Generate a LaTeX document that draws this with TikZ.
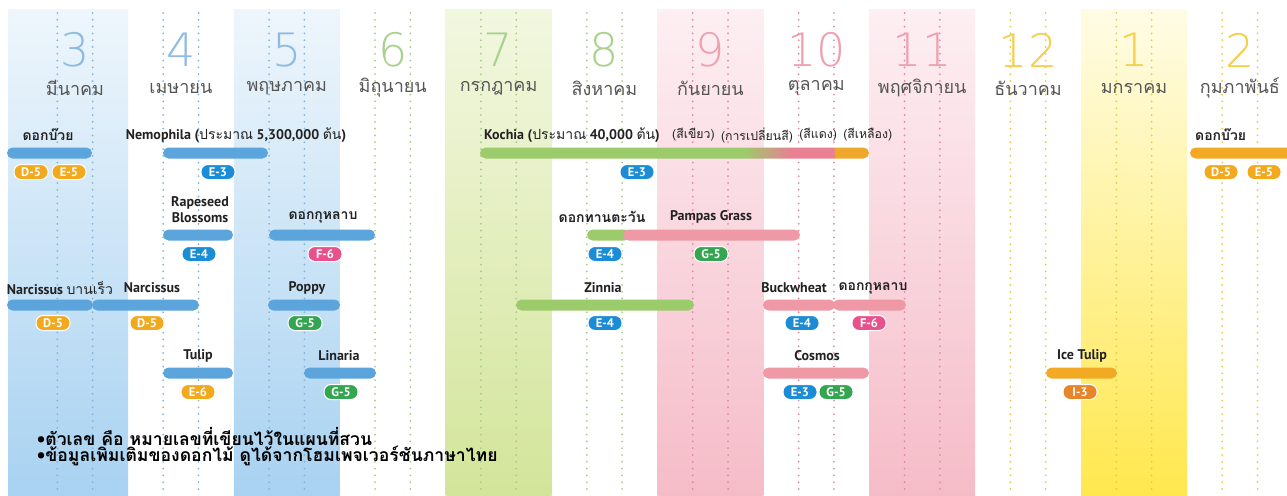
\documentclass[tikz,border=0pt]{standalone}
\usepackage{fontspec}
\setmainfont{PT Sans}
\newfontfamily\thaifont[Script=Thai]{Loma}
\newfontfamily\numfont{DejaVu Sans ExtraLight}
\newcommand\thtxt[1]{{\thaifont #1}}
\newcommand\thmd[1]{{\thaifont\mdseries #1}}
\definecolor{bandBlueT}{HTML}{EEF6FC}\definecolor{bandBlueB}{HTML}{A8D2F1}
\definecolor{bandGreenT}{HTML}{F2F7E0}\definecolor{bandGreenB}{HTML}{D3E59A}
\definecolor{bandPinkT}{HTML}{FDEFF3}\definecolor{bandPinkB}{HTML}{F5BCC8}
\definecolor{bandYelT}{HTML}{FFFCE6}\definecolor{bandYelB}{HTML}{FFE84E}
\definecolor{numBlue}{HTML}{8CBBE4}\definecolor{numGreen}{HTML}{A8D18C}
\definecolor{numPink}{HTML}{EEA0AE}\definecolor{numYel}{HTML}{F6CD4C}
\definecolor{dotBlue}{HTML}{86B3DC}\definecolor{dotGreen}{HTML}{A9C98A}
\definecolor{dotPink}{HTML}{DE8AA0}\definecolor{dotYel}{HTML}{E6CC45}
\definecolor{barBlue}{HTML}{5BA4DC}\definecolor{barGreen}{HTML}{9CCB6B}
\definecolor{barPink}{HTML}{EE99A5}\definecolor{barOrange}{HTML}{F2AA24}
\definecolor{tagBlue}{HTML}{1B8CD6}\definecolor{tagOrange}{HTML}{F2A91E}
\definecolor{tagGreen}{HTML}{34A551}\definecolor{tagPink}{HTML}{E8528C}
\definecolor{tagDeep}{HTML}{E8842A}
\definecolor{labcol}{HTML}{222222}\definecolor{namecol}{HTML}{555555}
\definecolor{kGreen}{HTML}{9CCB6B}\definecolor{kPink}{HTML}{E98093}\definecolor{kOrange}{HTML}{F0A82C}
\pgfdeclarehorizontalshading{kochiashade}{100bp}{color(0bp)=(kGreen); color(25bp)=(kGreen); color(59bp)=(kGreen); color(65bp)=(kPink); color(70.4bp)=(kPink); color(70.7bp)=(kOrange); color(100bp)=(kOrange)}
\newcommand\drawbar[4]{\fill[#1, rounded corners=5.5pt] (#2,#4-5.5) rectangle (#3,#4+5.5);}
\begin{document}
\begin{tikzpicture}[x=1pt,y=-1pt,
  dotline/.style={line width=2pt, line cap=round, dash pattern=on 0pt off 6.8pt},
  numstyle/.style={font=\numfont\fontsize{46}{46}\selectfont, inner sep=0pt},
  namestyle/.style={font=\thaifont\fontsize{18}{18}\selectfont, text=namecol, inner sep=0pt},
  lab/.style={font=\bfseries\fontsize{14}{15}\selectfont, text=labcol, inner sep=0pt},
  sublab/.style={font=\thaifont\fontsize{12.3}{13}\selectfont, text=labcol, inner sep=0pt, anchor=west},
  tag/.style={rectangle, rounded corners=7pt, minimum width=34pt, minimum height=15pt, inner sep=0pt,
     draw=white, line width=1pt, text=white, font=\bfseries\fontsize{12.5}{12.5}\selectfont},
  note/.style={font=\thaifont\bfseries\fontsize{17.6}{18}\selectfont, text=black, inner sep=0pt, anchor=west}]
\useasboundingbox (0,0) rectangle (1287,495);
\fill[white] (0,0) rectangle (1287,495);
% background bands
\shade[top color=bandBlueT, bottom color=bandBlueB] (8,10) rectangle (128,495);
\shade[top color=bandBlueT, bottom color=bandBlueB] (233.8,10) rectangle (339.7,495);
\shade[top color=bandGreenT, bottom color=bandGreenB] (445.6,10) rectangle (551.5,495);
\shade[top color=bandPinkT, bottom color=bandPinkB] (657.4,10) rectangle (763.3,495);
\shade[top color=bandPinkT, bottom color=bandPinkB] (869.2,10) rectangle (975.1,495);
\shade[top color=bandYelT, bottom color=bandYelB] (1081,10) rectangle (1186.9,495);
% dotted lines, numbers and month names
\foreach \i/\num/\name/\nc/\dc in {0/3/มีนาคม/numBlue/dotBlue, 1/4/เมษายน/numBlue/dotBlue, 2/5/พฤษภาคม/numBlue/dotBlue,
  3/6/มิถุนายน/numGreen/dotGreen, 4/7/กรกฎาคม/numGreen/dotGreen, 5/8/สิงหาคม/numGreen/dotGreen,
  6/9/กันยายน/numPink/dotPink, 7/10/ตุลาคม/numPink/dotPink, 8/11/พฤศจิกายน/numPink/dotPink,
  9/12/ธันวาคม/numYel/dotYel, 10/1/มกราคม/numYel/dotYel, 11/2/กุมภาพันธ์/numYel/dotYel}{
  \draw[dotline, \dc] ({22+105.9*\i+35.3},13) -- ({22+105.9*\i+35.3},495);
  \draw[dotline, \dc] ({22+105.9*\i+70.6},13) -- ({22+105.9*\i+70.6},495);
  \node[numstyle, text=\nc] (num\i) at ({22+105.9*\i+53},50) {\num};
  \node[namestyle] (name\i) at ({22+105.9*\i+53},88) {\name};
}
% ---- row 1
\drawbar{barBlue}{7}{92}{153}
\drawbar{barBlue}{163}{268}{153}
\shade[shading=kochiashade, rounded corners=5.5pt] (480,147.5) rectangle (869,158.5);
\drawbar{barOrange}{1190}{1300}{153}
\node[lab] (l1) at (48,135) {\thtxt{ดอกบ๊วย}};
\node[lab] (l2) at (236,135) {Nemophila (\thmd{ประมาณ} 5,300,000 \thmd{ต้น})};
\node[lab, anchor=west] (l3) at (484,135) {Kochia (\thmd{ประมาณ} 40,000 \thmd{ต้น})};
\node[sublab] (l3a) at (672,135) {(สีเขียว)};
\node[sublab] (l3b) at ([xshift=6pt]l3a.east) {(การเปลี่ยนสี)};
\node[sublab] (l3c) at ([xshift=6pt]l3b.east) {(สีแดง)};
\node[sublab] (l3d) at ([xshift=6pt]l3c.east) {(สีเหลือง)};
\node[lab, anchor=west] (l4) at (1195,135) {\thtxt{ดอกบ๊วย}};
\node[tag, fill=tagOrange] (t1) at (31,172) {D-5};
\node[tag, fill=tagOrange] (t2) at (69,172) {E-5};
\node[tag, fill=tagBlue] (t3) at (218,172) {E-3};
\node[tag, fill=tagBlue] (t4) at (637,172) {E-3};
\node[tag, fill=tagOrange] (t5) at (1221,172) {D-5};
\node[tag, fill=tagOrange] (t6) at (1264,172) {E-5};
% ---- row 2
\drawbar{barBlue}{163}{233}{235}
\drawbar{barBlue}{269}{375}{235}
\drawbar{barGreen}{587}{630}{235}
\drawbar{barPink}{623}{800}{235}
\node[lab, align=center, font=\bfseries\fontsize{14}{16}\selectfont] (l5) at (200,210) {Rapeseed\\Blossoms};
\node[lab] (l6) at (323,217) {\thtxt{ดอกกุหลาบ}};
\node[lab] (l7) at (602,217) {\thtxt{ดอกทานตะวัน}};
\node[lab] (l8) at (711,217) {Pampas Grass};
\node[tag, fill=tagBlue] (t7) at (199,254) {E-4};
\node[tag, fill=tagPink] (t8) at (325,254) {F-6};
\node[tag, fill=tagBlue] (t9) at (605,254) {E-4};
\node[tag, fill=tagGreen] (t10) at (711,254) {G-5};
% ---- row 3
\drawbar{barBlue}{7}{93}{305}
\drawbar{barBlue}{92}{199}{305}
\drawbar{barBlue}{268}{340}{305}
\drawbar{barGreen}{516}{694}{305}
\drawbar{barPink}{763}{835}{305}
\drawbar{barPink}{833}{906}{305}
\node[lab] (l9) at (60,288) {Narcissus \thmd{บานเร็ว}};
\node[lab] (l10) at (152,288) {Narcissus};
\node[lab] (l11) at (307,288) {Poppy};
\node[lab] (l12) at (603,288) {Zinnia};
\node[lab] (l13) at (794,288) {Buckwheat};
\node[lab] (l14) at (873,288) {\thtxt{ดอกกุหลาบ}};
\node[tag, fill=tagOrange] (t11) at (53,323) {D-5};
\node[tag, fill=tagOrange] (t12) at (147,323) {D-5};
\node[tag, fill=tagGreen] (t13) at (305,323) {G-5};
\node[tag, fill=tagBlue] (t14) at (605,323) {E-4};
\node[tag, fill=tagBlue] (t15) at (802,323) {E-4};
\node[tag, fill=tagPink] (t16) at (869,323) {F-6};
% ---- row 4
\drawbar{barBlue}{163}{233}{373}
\drawbar{barBlue}{304}{376}{373}
\drawbar{barPink}{763}{869}{373}
\drawbar{barOrange}{1046}{1117}{373}
\node[lab] (l15) at (198,356) {Tulip};
\node[lab] (l16) at (339,356) {Linaria};
\node[lab] (l17) at (817,356) {Cosmos};
\node[lab] (l18) at (1082,356) {Ice Tulip};
\node[tag, fill=tagOrange] (t17) at (198,392) {E-6};
\node[tag, fill=tagGreen] (t18) at (341,392) {G-5};
\node[tag, fill=tagBlue] (t19) at (800,392) {E-3};
\node[tag, fill=tagGreen] (t20) at (836,392) {G-5};
\node[tag, fill=tagDeep] (t21) at (1080,392) {I-3};
% ---- notes
\node[note] (n1) at (37,436) {•ตัวเลข คือ หมายเลขที่เขียนไว้ในแผนที่สวน};
\node[note] (n2) at (37,455) {•ข้อมูลเพิ่มเติมของดอกไม้ ดูได้จากโฮมเพจเวอร์ชันภาษาไทย};
\end{tikzpicture}
\end{document}
